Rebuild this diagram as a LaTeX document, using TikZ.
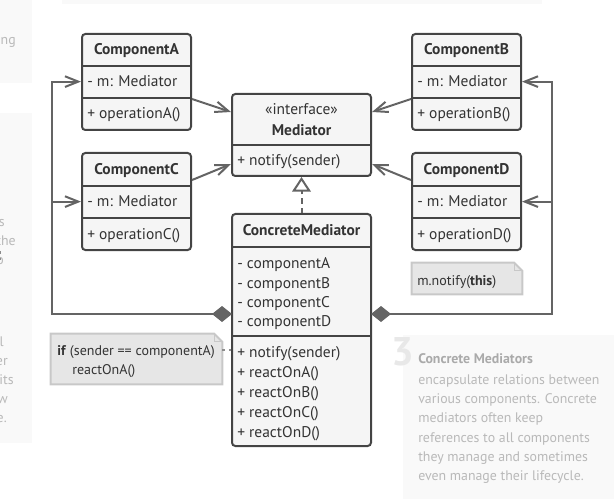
\documentclass[tikz,border=0pt]{standalone}
\usepackage{fontspec}
\setmainfont{PT Sans}
\usetikzlibrary{arrows.meta,fit,calc}
\definecolor{boxline}{RGB}{68,68,68}
\definecolor{boxfill}{RGB}{245,245,245}
\definecolor{connc}{RGB}{100,100,100}
\definecolor{notefill}{RGB}{230,230,230}
\definecolor{noteline}{RGB}{200,200,200}
\definecolor{txtc}{RGB}{51,51,51}
\definecolor{panel}{RGB}{249,249,249}
\definecolor{ghost}{RGB}{185,185,185}
\definecolor{ghosthd}{RGB}{170,170,170}
\definecolor{ghostbig}{RGB}{232,232,232}
\begin{document}
\begin{tikzpicture}[x=0.75pt,y=-0.75pt,
  font=\fontsize{11.6}{13.9}\selectfont,
  box/.style={draw=boxline, fill=boxfill, line width=1.5pt, rounded corners=2.5pt, inner sep=0pt},
  div/.style={draw=boxline, line width=1.5pt},
  hd/.style={font=\fontsize{11.6}{13.9}\selectfont\bfseries, text=txtc, inner sep=0pt, anchor=base},
  it/.style={anchor=base west, inner sep=0pt, text=txtc},
  nt/.style={anchor=base west, inner sep=0pt, text=txtc, font=\fontsize{10.5}{12.6}\selectfont},
  conn/.style={draw=connc, line width=1.5pt},
  barb/.style={-{Straight Barb[length=10pt,width=8pt]}},
  agg/.style={{Diamond[length=15pt,width=12pt]}-{Straight Barb[length=10pt,width=8pt]}},
  real/.style={dash pattern=on 4pt off 3pt, -{Triangle[length=11pt,width=14pt,fill=white]}},
  notebox/.style={inner sep=0pt},
  noteshape/.style={draw=noteline, fill=notefill, line width=1.5pt},
  notelink/.style={draw=noteline!70!black, line width=1pt, dash pattern=on 2pt off 3pt},
  ghosttxt/.style={text=ghost, inner sep=0pt, font=\fontsize{10.4}{12.5}\selectfont},
]
\path[use as bounding box] (0,0) rectangle (614,499);

% background panels
\fill[panel] (62,0) rectangle (542,4);
\fill[panel] (0,0) rectangle (32,83);
\fill[panel] (0,113) rectangle (32,443);
\fill[panel] (403,335) rectangle (614,499);

% cut-off text fragments on the left
\node[ghosttxt, anchor=base east] (g1) at (16,45) {ing};
\node[ghosttxt, anchor=base east] (g2) at (5,226) {s};
\node[ghosttxt, anchor=base east] (g3) at (16,245) {the};
\node[ghosttxt, anchor=base east] (g4) at (4,264) {o};
\node[ghosttxt, anchor=base east] (g5) at (4,346) {l};
\node[ghosttxt, anchor=base east] (g6) at (8,365) {er};
\node[ghosttxt, anchor=base east] (g7) at (14,384) {its};
\node[ghosttxt, anchor=base east] (g8) at (8,403) {w};
\node[ghosttxt, anchor=base east] (g9) at (7,422) {e.};

% panel 3
\node[anchor=base east, inner sep=0pt, text=ghostbig, font=\fontsize{30}{32}\selectfont\bfseries] (n3) at (414,365) {3};
\node[ghosttxt, anchor=base west, text=ghosthd, font=\fontsize{10.4}{12.5}\selectfont\bfseries] (p0) at (418,363) {Concrete Mediators};
\node[ghosttxt, anchor=base west] (p1) at (418,384) {encapsulate relations between};
\node[ghosttxt, anchor=base west] (p2) at (418,403) {various components. Concrete};
\node[ghosttxt, anchor=base west] (p3) at (418,422) {mediators often keep};
\node[ghosttxt, anchor=base west] (p4) at (418,442) {references to all components};
\node[ghosttxt, anchor=base west] (p5) at (418,461) {they manage and sometimes};
\node[ghosttxt, anchor=base west] (p6) at (418,480) {even manage their lifecycle.};

% ComponentA
\node[box, fit={(82,34) (191,130)}] (A) {};
\draw[div] (A.west |- 0,66) -- (A.east |- 0,66);
\draw[div] (A.west |- 0,98) -- (A.east |- 0,98);
\node[hd] (Ah) at (136.5,55) {ComponentA};
\node[it] (Am) at (87,87) {- m: Mediator};
\node[it] (Ao) at (87,119) {+ operationA()};

% ComponentC
\node[box, fit={(82,153) (191,250)}] (C) {};
\draw[div] (C.west |- 0,186) -- (C.east |- 0,186);
\draw[div] (C.west |- 0,218) -- (C.east |- 0,218);
\node[hd] (Ch) at (136.5,174.5) {ComponentC};
\node[it] (Cm) at (87,207) {- m: Mediator};
\node[it] (Co) at (87,239) {+ operationC()};

% ComponentB
\node[box, fit={(412,34) (521,130)}] (B) {};
\draw[div] (B.west |- 0,66) -- (B.east |- 0,66);
\draw[div] (B.west |- 0,98) -- (B.east |- 0,98);
\node[hd] (Bh) at (466.5,55) {ComponentB};
\node[it] (Bm) at (417,87) {- m: Mediator};
\node[it] (Bo) at (417,119) {+ operationB()};

% ComponentD
\node[box, fit={(412,153) (521,250)}] (D) {};
\draw[div] (D.west |- 0,186) -- (D.east |- 0,186);
\draw[div] (D.west |- 0,218) -- (D.east |- 0,218);
\node[hd] (Dh) at (466.5,174.5) {ComponentD};
\node[it] (Dm) at (417,207) {- m: Mediator};
\node[it] (Do) at (417,239) {+ operationD()};

% Mediator
\node[box, fit={(232,94) (371,176)}] (M) {};
\draw[div] (M.west |- 0,145) -- (M.east |- 0,145);
\node[hd, font=\fontsize{11.6}{13.9}\selectfont] (Ms) at (301.5,115) {«interface»};
\node[hd] (Mh) at (301.5,136) {Mediator};
\node[it] (Mn) at (237,166) {+ notify(sender)};

% ConcreteMediator
\node[box, fit={(232,214) (371,446)}] (CM) {};
\draw[div] (CM.west |- 0,247) -- (CM.east |- 0,247);
\draw[div] (CM.west |- 0,336) -- (CM.east |- 0,336);
\node[hd] (CMh) at (301.5,235) {ConcreteMediator};
\node[it] (ca) at (237,268) {- componentA};
\node[it] (cb) at (237,288) {- componentB};
\node[it] (cc) at (237,307) {- componentC};
\node[it] (cd) at (237,326) {- componentD};
\node[it] (m1) at (237,357) {+ notify(sender)};
\node[it] (m2) at (237,377) {+ reactOnA()};
\node[it] (m3) at (237,397) {+ reactOnB()};
\node[it] (m4) at (237,417) {+ reactOnC()};
\node[it] (m5) at (237,437) {+ reactOnD()};

% components -> mediator
\draw[conn, barb] ([yshift=-12.75pt]A.east) -- ([yshift=17.25pt]M.west);
\draw[conn, barb] ([yshift=16.1pt]C.east) -- ([yshift=-21.75pt]M.west);
\draw[conn, barb] ([yshift=-12.75pt]B.west) -- ([yshift=17.25pt]M.east);
\draw[conn, barb] ([yshift=16.1pt]D.west) -- ([yshift=-21.75pt]M.east);

% realization
\draw[conn, real] (CM.north) -- (M.south);

% aggregation rails
\coordinate (aggL) at (232,314);
\coordinate (railL) at (52,314);
\coordinate (aggR) at (371,314);
\coordinate (railR) at (552,314);
\draw[conn, agg] (aggL) -- (railL) |- (A.west |- Am);
\draw[conn, barb] (railL |- Cm) -- (C.west |- Cm);
\draw[conn, agg] (aggR) -- (railR) |- (B.east |- Bm);
\draw[conn, barb] (railR |- Dm) -- (D.east |- Dm);

% note 1
\node[notebox, fit={(412,263) (522,294)}] (N1) {};
\draw[noteshape] (N1.north west) -- ([xshift=-6pt]N1.north east) -- ([yshift=-6pt]N1.north east) -- (N1.south east) -- (N1.south west) -- cycle;
\draw[draw=noteline, line width=1pt] ([xshift=-6pt]N1.north east) |- ([yshift=-6pt]N1.north east);
\node[nt] (N1t) at (417,285) {m.notify(\textbf{this})};
\draw[notelink] (D.south -| 0,432) -- (N1.north -| 0,432);

% note 2
\node[notebox, fit={(51,334) (222,384)}] (N2) {};
\draw[noteshape] (N2.north west) -- ([xshift=-6pt]N2.north east) -- ([yshift=-6pt]N2.north east) -- (N2.south east) -- (N2.south west) -- cycle;
\draw[draw=noteline, line width=1pt] ([xshift=-6pt]N2.north east) |- ([yshift=-6pt]N2.north east);
\node[nt] (N2a) at (57,355) {\textbf{if} (sender == componentA)};
\node[nt] (N2b) at (72,374) {reactOnA()};
\draw[notelink] (N2.east |- 0,350) -- (CM.west |- 0,350);
\end{tikzpicture}
\end{document}
